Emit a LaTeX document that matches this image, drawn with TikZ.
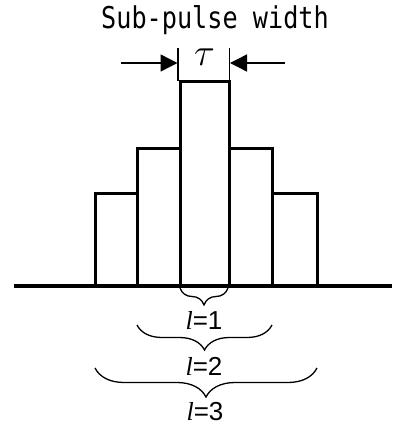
\documentclass[tikz,border=0pt]{standalone}
\usepackage{fontspec}
\newfontfamily\titlefont[FakeStretch=0.84]{DejaVu Sans Mono}
\newfontfamily\labfont{Liberation Sans}
\newfontfamily\itfont{Liberation Serif}
\usetikzlibrary{arrows.meta,decorations.pathreplacing}
\begin{document}
\begin{tikzpicture}[x=1pt,y=-1pt,
  bar/.style={line width=3pt},
  base/.style={line width=3.2pt},
  thin/.style={line width=1.4pt},
  arr/.style={line width=1.4pt,-{Triangle[length=17pt,width=17pt]}},
  brc/.style={line width=1.3pt,decorate,decoration={brace,amplitude=#1,mirror,aspect=0.5}},
  lab/.style={font=\labfont\fontsize{26}{28}\selectfont,inner sep=0pt}]
\useasboundingbox (0,0) rectangle (394,431);
% coordinates
\coordinate (b0) at (14,286); \coordinate (b1) at (392,286);
% bars
\draw[bar] (95,286) rectangle (137,193);
\draw[bar] (137,286) rectangle (180,148);
\draw[bar] (180,286) rectangle (229,81);
\draw[bar] (229,286) rectangle (272,148);
\draw[bar] (272,286) rectangle (317,193);
\draw[base] (b0) -- (b1);
% width markers
\coordinate (tl) at (178,48); \coordinate (tlb) at (178,81);
\coordinate (tr) at (229.5,48); \coordinate (trb) at (229.5,81);
\draw[thin] (tl) -- (tlb);
\draw[thin] (tr) -- (trb);
\coordinate (al) at (121,63); \coordinate (alt) at (177.5,63);
\coordinate (ar) at (285,63); \coordinate (art) at (230,63);
\draw[arr] (al) -- (alt);
\draw[arr] (ar) -- (art);
\node[inner sep=0pt,font=\fontsize{24}{26}\selectfont] (tau) at (204.5,57) {\scalebox{1.55}{$\tau$}};
\node[inner sep=0pt,font=\titlefont\fontsize{30}{32}\selectfont] (title) at (215,20) {Sub-pulse width};
% braces
\coordinate (c1a) at (180,288); \coordinate (c1b) at (228,288);
\draw[brc=17pt] (c1a) -- (c1b);
\node[lab] (l1) at (204,320) {\itfont\itshape l\labfont\upshape=1};
\coordinate (c2a) at (137,325); \coordinate (c2b) at (272,325);
\draw[brc=25pt] (c2a) -- (c2b);
\node[lab] (l2) at (204,366) {\itfont\itshape l\labfont\upshape=2};
\coordinate (c3a) at (95,368); \coordinate (c3b) at (317,368);
\draw[brc=29pt] (c3a) -- (c3b);
\node[lab] (l3) at (205,412) {\itfont\itshape l\labfont\upshape=3};
\end{tikzpicture}
\end{document}
